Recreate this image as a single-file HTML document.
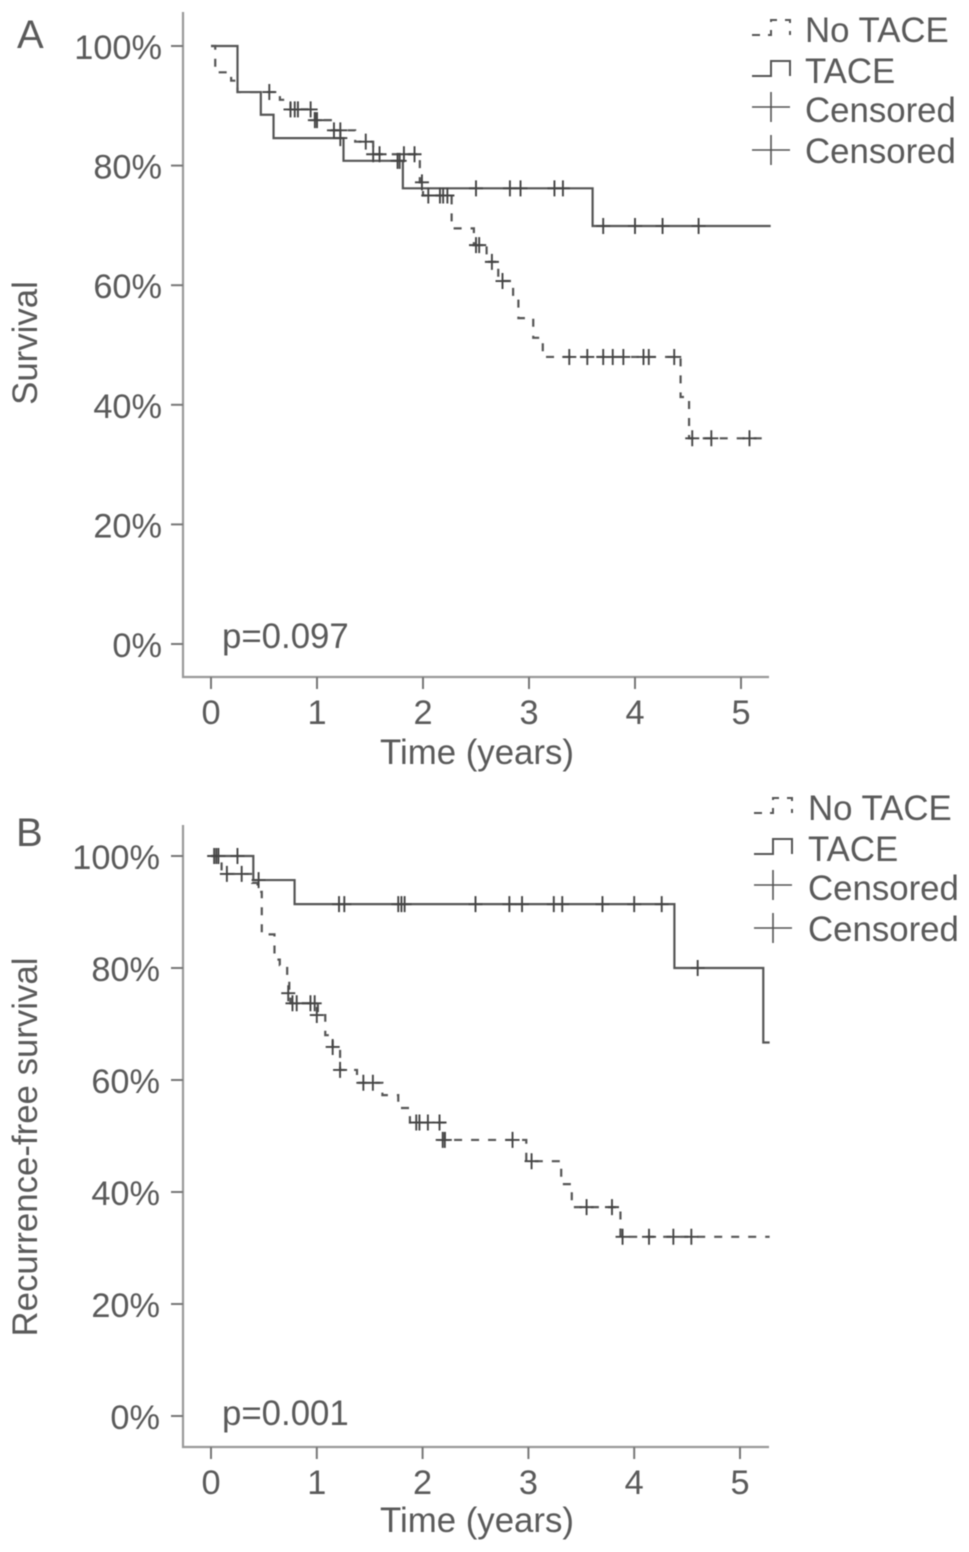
<!DOCTYPE html>
<html><head><meta charset="utf-8"><title>Survival curves</title>
<style>
html,body{margin:0;padding:0;background:#fff;width:969px;height:1552px;overflow:hidden}
svg{display:block;filter:blur(0.45px)}
text{font-family:"Liberation Sans",sans-serif;fill:#5a5a5a;font-size:34.8px}
text.tick{font-size:34.3px}
</style></head><body>
<svg id="chart" width="969" height="1552" viewBox="0 0 969 1552" xmlns="http://www.w3.org/2000/svg">
<rect width="969" height="1552" fill="#fff"/>
<text x="17" y="48" style="font-size:40px">A</text>
<text x="16" y="846" style="font-size:40px">B</text>
<text x="222" y="648">p=0.097</text>
<text x="222" y="1425">p=0.001</text>
<text x="477" y="764" text-anchor="middle">Time (years)</text>
<text x="477" y="1532" text-anchor="middle">Time (years)</text>
<text transform="translate(37,343) rotate(-90)" text-anchor="middle">Survival</text>
<text transform="translate(37,1147) rotate(-90)" text-anchor="middle">Recurrence-free survival</text>

<g fill="none" stroke="#555" stroke-width="2">
<path d="M752 35H771V20H790V35" stroke-dasharray="8 8"/>
<path d="M752 76H771V61H790V76"/>
<path d="M752 107H790M771 92V122" stroke-width="1.6"/>
<path d="M752 150H790M771 135V165" stroke-width="1.6"/>
</g>
<text x="805" y="42">No TACE</text>
<text x="805" y="83">TACE</text>
<text x="805" y="122">Censored</text>
<text x="805" y="163">Censored</text>

<g fill="none" stroke="#555" stroke-width="2">
<path d="M754 813H773V798H792V813" stroke-dasharray="8 8"/>
<path d="M754 854H773V839H792V854"/>
<path d="M754 885H792M773 870V900" stroke-width="1.6"/>
<path d="M754 928H792M773 913V943" stroke-width="1.6"/>
</g>
<text x="808" y="820">No TACE</text>
<text x="808" y="861">TACE</text>
<text x="808" y="900">Censored</text>
<text x="808" y="941">Censored</text>
</svg>
<script>
const xTickLabels = [0, 1, 2, 3, 4, 5];
const yTickLabels = [0, 20, 40, 60, 80, 100];

const aTaceTimes = [0, 0.25, 0.47, 0.59, 1.25, 1.81, 3.6, 5.28];
const aTaceValues = [100, 92.3, 88.5, 84.6, 80.8, 76.2, 69.9, 69.9];
const aNoTaceTimes = [0, 0.04, 0.19, 0.25, 0.65, 0.75, 0.98, 1.13, 1.36, 1.53, 1.97, 2.0, 2.27, 2.48, 2.6, 2.71, 2.85, 2.9, 3.04, 3.13, 4.43, 4.51, 5.28];
const aNoTaceValues = [100, 95.6, 94.2, 92.3, 91, 89.4, 87.6, 85.9, 84, 81.9, 77.2, 75, 69.5, 66.7, 63.9, 60.7, 58, 54.5, 51.2, 48, 41.3, 34.4, 34.4];
const aTaceCensorTimes = [0.55, 1.22, 1.76, 1.78, 2.5, 2.82, 2.92, 3.24, 3.32, 3.7, 4.0, 4.26, 4.6];
const aTaceCensorValues = [92.3, 84.6, 80.8, 80.8, 76.2, 76.2, 76.2, 76.2, 76.2, 69.9, 69.9, 69.9, 69.9];
const aNoTaceCensorTimes = [0.75, 0.79, 0.82, 0.94, 0.98, 1.0, 1.16, 1.22, 1.46, 1.53, 1.59, 1.82, 1.92, 1.99, 2.05, 2.16, 2.19, 2.23, 2.5, 2.53, 2.65, 2.75, 3.38, 3.55, 3.7, 3.79, 3.89, 4.08, 4.13, 4.37, 4.54, 4.72, 5.08];
const aNoTaceCensorValues = [89.4, 89.4, 89.4, 89.4, 87.6, 87.6, 85.9, 85.9, 84, 81.9, 81.9, 81.9, 81.9, 77.2, 75, 75, 75, 75, 66.7, 66.7, 63.9, 60.7, 48, 48, 48, 48, 48, 48, 48, 48, 34.4, 34.4, 34.4];

const bTaceTimes = [0, 0.4, 0.79, 4.38, 5.22, 5.28];
const bTaceValues = [100, 95.7, 91.4, 80, 66.7, 66.7];
const bNoTaceTimes = [0, 0.1, 0.39, 0.44, 0.48, 0.6, 0.65, 0.72, 0.74, 0.75, 1.01, 1.08, 1.15, 1.22, 1.38, 1.62, 1.77, 1.88, 2.21, 2.98, 3.31, 3.41, 3.87, 5.28];
const bNoTaceValues = [100, 96.8, 95.2, 93.6, 86, 81.5, 80.5, 78.7, 75.5, 73.7, 71.6, 68, 65.9, 61.8, 59.5, 57.3, 55, 52.4, 49.3, 45.5, 41.4, 37.3, 32, 32];
const bTaceCensorTimes = [0.03, 0.05, 0.07, 0.25, 0.45, 1.21, 1.26, 1.77, 1.8, 1.83, 2.5, 2.82, 2.94, 3.24, 3.32, 3.7, 4.0, 4.26, 4.6];
const bTaceCensorValues = [100, 100, 100, 100, 95.7, 91.4, 91.4, 91.4, 91.4, 91.4, 91.4, 91.4, 91.4, 91.4, 91.4, 91.4, 91.4, 91.4, 80];
const bNoTaceCensorTimes = [0.15, 0.29, 0.73, 0.77, 0.81, 0.94, 0.98, 1.0, 1.15, 1.22, 1.44, 1.53, 1.94, 1.97, 2.05, 2.16, 2.19, 2.21, 2.85, 3.03, 3.55, 3.79, 3.89, 4.14, 4.37, 4.54];
const bNoTaceCensorValues = [96.8, 96.8, 75.5, 73.7, 73.7, 73.7, 73.7, 71.6, 65.9, 61.8, 59.5, 59.5, 52.4, 52.4, 52.4, 52.4, 49.3, 49.3, 49.3, 45.5, 37.3, 37.3, 32, 32, 32, 32];

const NS = 'http://www.w3.org/2000/svg';
const svg = document.getElementById('chart');

function make(tag, attrs, text) {
  const el = document.createElementNS(NS, tag);
  for (const k in attrs) el.setAttribute(k, attrs[k]);
  if (text !== undefined) el.textContent = text;
  svg.appendChild(el);
  return el;
}

function drawAxes(p, x, y) {
  const axis = make('path', {d: 'M' + p.axisX + ' ' + p.top + 'V' + p.axisY + 'H' + p.right, fill: 'none', stroke: '#999', 'stroke-width': 2.2});
  
  
  yTickLabels.forEach(function (v) {
    const tick = make('path', {d: 'M' + (p.axisX - 12) + ' ' + y(v) + 'H' + p.axisX, stroke: '#777', 'stroke-width': 2});
    
    
    const label = make('text', {class: 'tick', x: p.yLabelX, y: y(v) + 13, 'text-anchor': 'end'}, v + '%');
    
    
  });
  xTickLabels.forEach(function (v) {
    const tick = make('path', {d: 'M' + x(v) + ' ' + p.axisY + 'V' + (p.axisY + 12), stroke: '#777', 'stroke-width': 2});
    
    
    const label = make('text', {class: 'tick', x: x(v), y: p.axisY + 47, 'text-anchor': 'middle'}, String(v));
    
    
  });
}

function stepPath(times, values, x, y) {
  let d = 'M' + x(times[0]) + ' ' + y(values[0]);
  for (let i = 1; i < times.length; i++) {
    d += 'H' + x(times[i]) + 'V' + y(values[i]);
  }
  return d;
}

function drawCurve(name, times, values, dashed, x, y) {
  const attrs = {d: stepPath(times, values, x, y), fill: 'none', stroke: '#555', 'stroke-width': 2.2};
  if (dashed) attrs['stroke-dasharray'] = '8 9';
  const line = make('path', attrs);
  
  
}

function drawCensors(name, times, values, x, y) {
  times.forEach(function (t, i) {
    const cx = x(t), cy = y(values[i]);
    const mark = make('path', {d: 'M' + (cx - 7) + ' ' + cy + 'H' + (cx + 7) + 'M' + cx + ' ' + (cy - 8) + 'V' + (cy + 8), fill: 'none', stroke: '#444', 'stroke-width': 1.9});
    
    
  });
}

function xA(t) { return 211 + 106 * t; }
function yA(v) { return 644 - 5.98 * v; }
function xB(t) { return 211 + 105.8 * t; }
function yB(v) { return 1416 - 5.6 * v; }

drawAxes({id: 'a', axisX: 183, axisY: 677, top: 12, right: 769, yLabelX: 162}, xA, yA);
drawCurve('no-tace-curve-a', aNoTaceTimes, aNoTaceValues, true, xA, yA);
drawCurve('tace-curve-a', aTaceTimes, aTaceValues, false, xA, yA);
drawCensors('censor-mark-tace-a', aTaceCensorTimes, aTaceCensorValues, xA, yA);
drawCensors('censor-mark-no-tace-a', aNoTaceCensorTimes, aNoTaceCensorValues, xA, yA);

drawAxes({id: 'b', axisX: 183, axisY: 1447, top: 825, right: 769, yLabelX: 160}, xB, yB);
drawCurve('no-tace-curve-b', bNoTaceTimes, bNoTaceValues, true, xB, yB);
drawCurve('tace-curve-b', bTaceTimes, bTaceValues, false, xB, yB);
drawCensors('censor-mark-tace-b', bTaceCensorTimes, bTaceCensorValues, xB, yB);
drawCensors('censor-mark-no-tace-b', bNoTaceCensorTimes, bNoTaceCensorValues, xB, yB);
</script>
</body></html>
